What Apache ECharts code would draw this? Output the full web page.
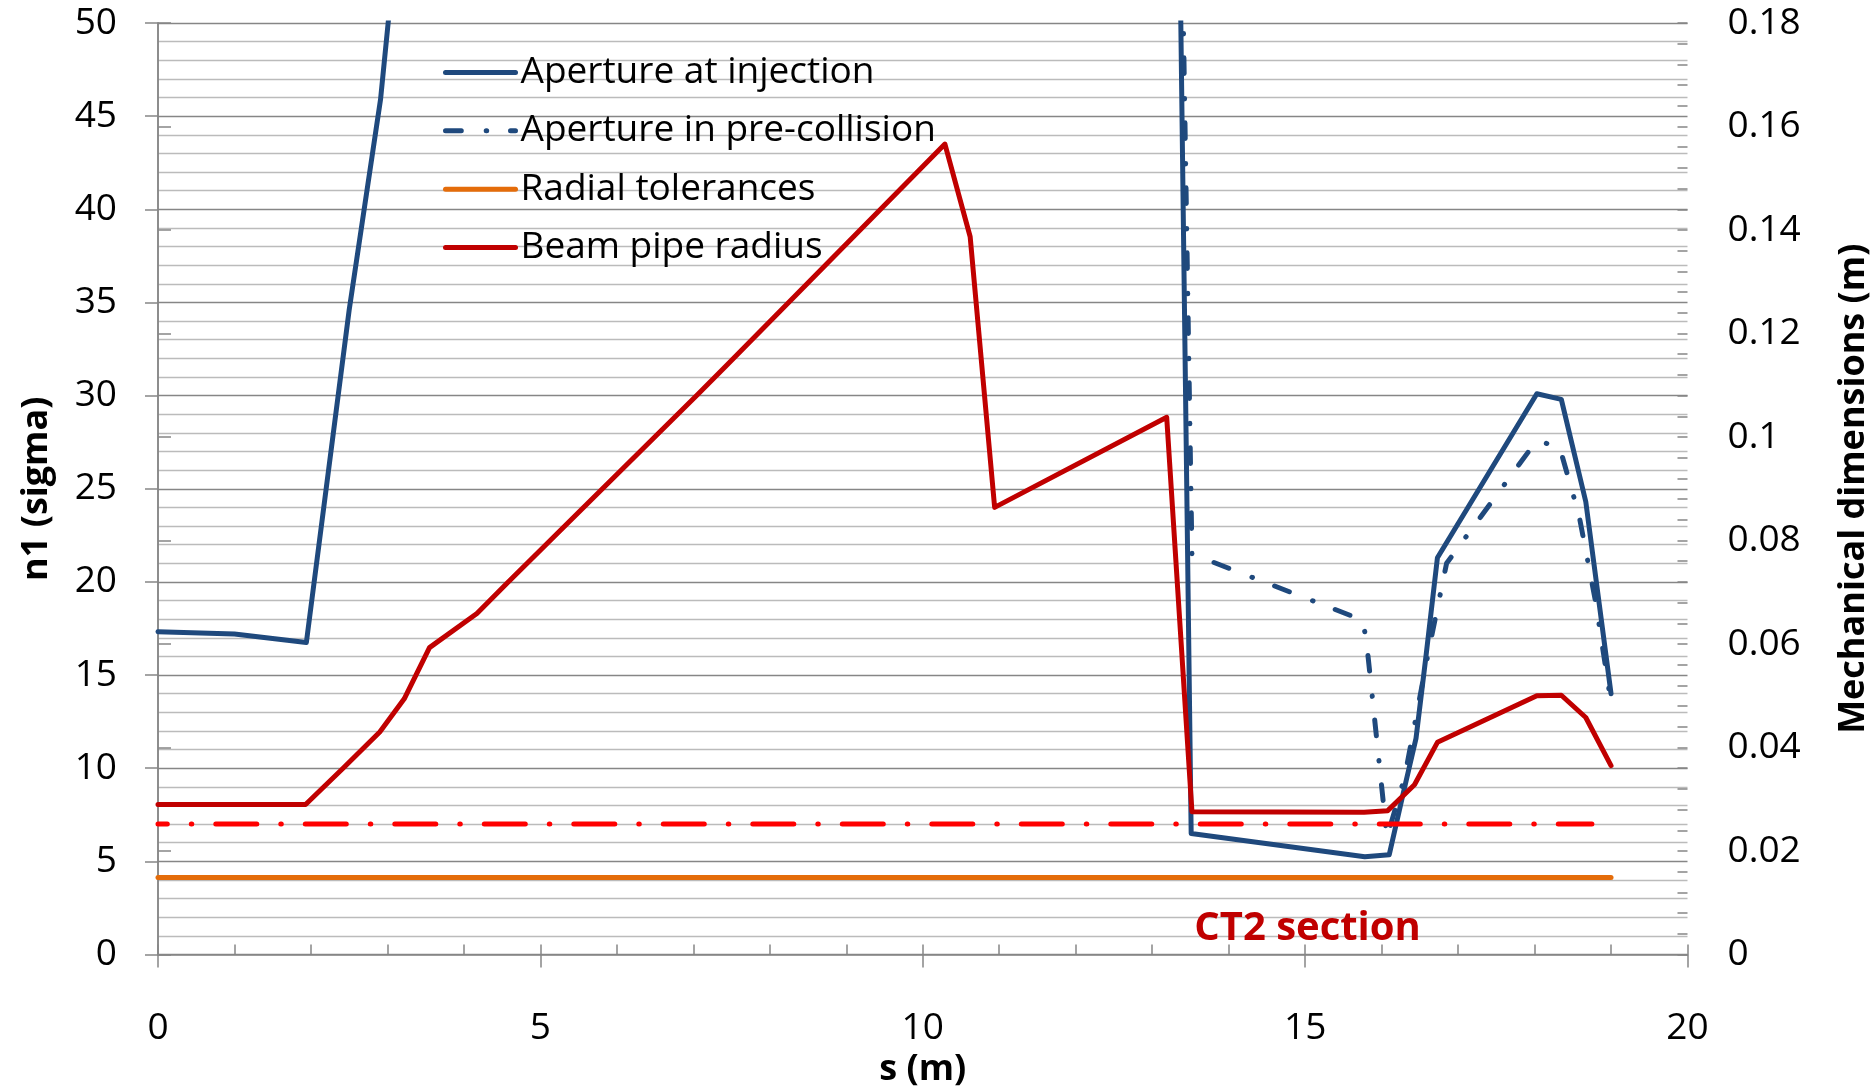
<!DOCTYPE html>
<html><head><meta charset="utf-8">
<script src="https://cdn.jsdelivr.net/npm/echarts@6/dist/echarts.min.js"></script>
<style>html,body{margin:0;padding:0;background:#fff}#c{width:1876px;height:1086px}</style>
</head><body><div id="c"></div><script>
// ---- data (s in m, n1 in sigma, radii in m) ----
const injS  = [0, 1.0, 1.94, 2.5, 2.91, 3.3, 13.25, 13.51, 15.78, 16.10, 16.28, 16.45, 16.58, 16.73, 18.03, 18.35, 18.67, 19.0];
const injN1 = [17.33, 17.2, 16.75, 34.6, 45.9, 62, 90, 6.5, 5.25, 5.36, 8.6, 11.6, 16.0, 21.3, 30.1, 29.8, 24.3, 14.0];
const preS  = [13.25, 13.52, 15.75, 15.8, 16.07, 16.3, 16.62, 16.85, 18.03, 18.33, 18.58, 18.8, 19.0];
const preN1 = [90, 21.5, 17.95, 16.9, 6.3, 9.5, 16.4, 21.0, 27.6, 27.2, 23.6, 18.9, 13.5];
const threshS  = [0, 18.75];
const threshN1 = [7, 7];
const tolS = [0, 19.0];
const tolR = [0.0149, 0.0149];
const pipeS = [0, 1.93, 2.42, 2.90, 3.22, 3.55, 4.17, 4.56, 7.05, 7.44, 10.29, 10.62, 10.94, 13.19, 13.52, 15.77, 16.08, 16.43, 16.73, 18.03, 18.35, 18.67, 19.0];
const pipeR = [0.0290, 0.0290, 0.0360, 0.0430, 0.0494, 0.0593, 0.0659, 0.0717, 0.1081, 0.1139, 0.1566, 0.1387, 0.0864, 0.1038, 0.0276, 0.0275, 0.0278, 0.0328, 0.0410, 0.0500, 0.0501, 0.0458, 0.0365];
const seriesNames = ['Aperture at injection', 'Aperture in pre-collision', 'Radial tolerances', 'Beam pipe radius'];
const ct2Label = 'CT2 section';
const ct2Pos = [13.55, 1.4];
const xTitle = 's (m)', yTitle = 'n1 (sigma)', y2Title = 'Mechanical dimensions (m)';

const zip = (a, b) => a.map((v, i) => [v, b[i]]);
const FONT = 'Open Sans';
const AX = '#868686';
const FS = 37;
const chart = echarts.init(document.getElementById('c'), null, {renderer: 'canvas'});
const lbl = {fontSize: FS, color: '#000', fontFamily: FONT};
const ttl = {fontSize: 36, color: '#000', fontFamily: FONT, fontWeight: 'bold'};
const ls = (color, extra) => Object.assign({color: color, width: 5, cap: 'round', join: 'round'}, extra || {});

chart.setOption({
  animation: false,
  textStyle: {fontFamily: FONT},
  grid: {left: 158, right: 188.5, top: 23, bottom: 131.5, containLabel: false, outerBoundsMode: 'none'},
  legend: {
    data: seriesNames, orient: 'vertical', left: 443, top: 50.4, padding: 0,
    itemWidth: 70, itemHeight: 14, itemGap: 14.4,
    itemStyle: {opacity: 0},
    lineStyle: {width: 5, cap: 'round'},
    textStyle: {fontSize: FS, color: '#000', fontFamily: FONT, lineHeight: 44}
  },
  xAxis: [{
    type: 'value', min: 0, max: 20, interval: 5,
    axisLine: {lineStyle: {color: AX, width: 1.5}},
    axisTick: {length: 13, lineStyle: {color: AX, width: 1.5}},
    axisLabel: Object.assign({margin: 55}, lbl),
    splitLine: {show: false},
    name: xTitle, nameLocation: 'middle', nameGap: 90, nameTextStyle: ttl
  }, {
    type: 'value', min: 0, max: 20, interval: 1, position: 'bottom',
    axisLine: {show: false},
    axisTick: {show: true, inside: true, length: 10, lineStyle: {color: AX, width: 1.5}},
    axisLabel: {show: false}, splitLine: {show: false}
  }],
  yAxis: [{
    type: 'value', min: 0, max: 50, interval: 5, position: 'left',
    axisLine: {show: true, lineStyle: {color: AX, width: 1.5}},
    axisTick: {show: true, length: 13, lineStyle: {color: AX, width: 1.5}},
    axisLabel: Object.assign({margin: 41}, lbl),
    splitLine: {show: true, lineStyle: {color: AX, width: 1.3}},
    minorTick: {show: false, splitNumber: 5},
    minorSplitLine: {show: true, lineStyle: {color: '#BBBBBB', width: 1.3}},
    name: yTitle, nameLocation: 'middle', nameGap: 103, nameRotate: 90, nameTextStyle: ttl
  }, {
    type: 'value', min: 0, max: 0.18, interval: 0.02, position: 'right',
    axisLine: {show: true, lineStyle: {color: AX, width: 1.5}},
    axisTick: {show: true, length: 13, lineStyle: {color: AX, width: 1.5}},
    axisLabel: Object.assign({margin: 40, formatter: v => String(+v.toFixed(2))}, lbl),
    splitLine: {show: false},
    name: y2Title, nameLocation: 'middle', nameGap: 148, nameRotate: 90, nameTextStyle: ttl
  }, {
    type: 'value', min: 0, max: 45, interval: 1, position: 'right',
    axisLine: {show: false},
    axisTick: {show: true, inside: true, length: 10, lineStyle: {color: AX, width: 1.5}},
    axisLabel: {show: false}, splitLine: {show: false}
  }],
  series: [{
    name: seriesNames[0], type: 'line', xAxisIndex: 0, yAxisIndex: 0, symbol: 'none', clip: true,
    data: zip(injS, injN1), lineStyle: ls('#1F497D'), itemStyle: {color: '#1F497D'}
  }, {
    name: seriesNames[1], type: 'line', xAxisIndex: 0, yAxisIndex: 0, symbol: 'none', clip: true,
    data: zip(preS, preN1), lineStyle: ls('#1F497D', {type: [15.8, 24.9, 0.5, 23.8]}), itemStyle: {color: '#1F497D'}
  }, {
    name: 'n1 limit', type: 'line', xAxisIndex: 0, yAxisIndex: 0, symbol: 'none', clip: true,
    data: zip(threshS, threshN1), lineStyle: ls('#FF0000', {type: [41, 24, 0.5, 24], dashOffset: 31.7}), itemStyle: {color: '#FF0000'},
    markPoint: {
      symbol: 'circle', symbolSize: 0, silent: true,
      data: [{coord: ct2Pos, value: ct2Label}],
      label: {show: true, position: 'right', distance: 0, formatter: () => ct2Label,
        fontSize: 40, fontWeight: 'bold', color: '#C00000', fontFamily: FONT}
    }
  }, {
    name: seriesNames[2], type: 'line', xAxisIndex: 0, yAxisIndex: 1, symbol: 'none', clip: true,
    data: zip(tolS, tolR), lineStyle: ls('#E46C0A'), itemStyle: {color: '#E46C0A'}
  }, {
    name: seriesNames[3], type: 'line', xAxisIndex: 0, yAxisIndex: 1, symbol: 'none', clip: true,
    data: zip(pipeS, pipeR), lineStyle: ls('#C00000'), itemStyle: {color: '#C00000'}
  }]
});
</script></body></html>
